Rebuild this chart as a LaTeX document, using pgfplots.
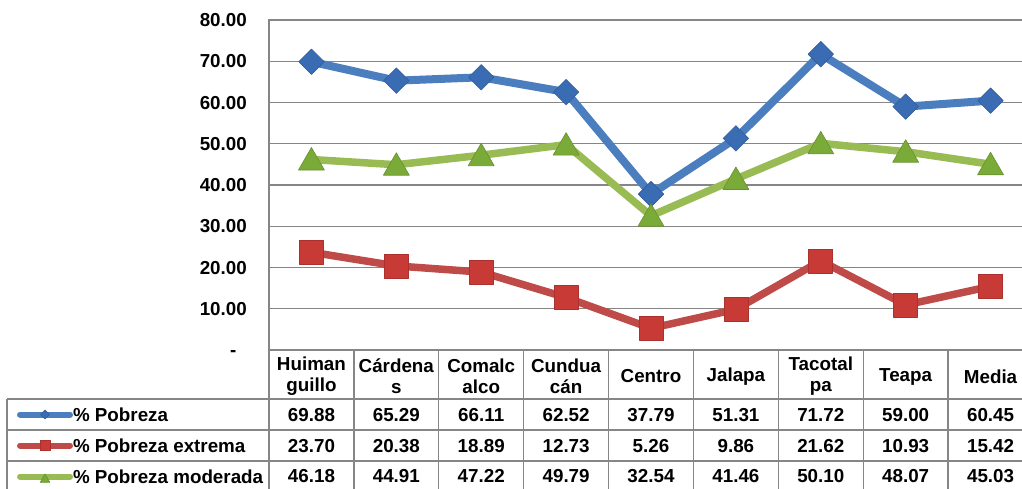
\documentclass[border=0pt]{standalone}
\usepackage{pgfplots}
\pgfplotsset{compat=1.18}
\usepackage{fontspec}
\setmainfont{Liberation Sans}
\definecolor{pblue}{RGB}{74,126,190}
\definecolor{pbluem}{RGB}{58,108,180}
\definecolor{pred}{RGB}{190,75,72}
\definecolor{predm}{RGB}{200,58,54}
\definecolor{pgreen}{RGB}{152,187,84}
\definecolor{pgreenm}{RGB}{122,170,56}
\definecolor{gridc}{RGB}{134,134,134}
\newcommand\legimg[1]{\draw[line width=6pt, line cap=round, mark repeat=2, mark phase=2, mark size=#1] plot coordinates {(0pt,0pt) (25pt,0pt) (50pt,0pt)};}
\begin{document}
\fontsize{18.8}{21}\selectfont\bfseries
\begin{tikzpicture}[x=1pt,y=1pt]
\path[use as bounding box] (0,0) rectangle (1022,489);
\clip (0,0) rectangle (1022,489);
\begin{axis}[
  at={(269pt,139pt)}, anchor=south west,
  scale only axis, width=764pt, height=330pt,
  xmin=0, xmax=9, ymin=0, ymax=80,
  clip=false,
  axis line style={gridc, line width=1.3pt},
  major tick length=0pt,
  ytick={0,10,...,80},
  yticklabels={-\hphantom{0},10.00,20.00,30.00,40.00,50.00,60.00,70.00,80.00},
  yticklabel style={anchor=east, inner sep=0pt, xshift=-22pt, text height=13.5pt, text depth=0pt},
  xtick={0.5,1.5,...,8.5},
  xticklabels={{Huiman\\guillo},{Cárdena\\s},{Comalc\\alco},{Cundua\\cán},Centro,Jalapa,{Tacotal\\pa},Teapa,Media},
  xticklabel style={anchor=center, align=center, inner sep=0pt, yshift=-26.5pt},
  ymajorgrids, grid style={gridc, line width=1.3pt},
  legend cell align=left,
  legend style={at={(-0.3298,-0.1485)}, anchor=north west, draw=none, fill=none,
    inner sep=0pt, outer sep=0pt, row sep=0pt, column sep=0pt,
    nodes={inner sep=0pt, text height=22pt, text depth=9pt}},
]
\addplot[pblue, line width=8pt, line join=round,
  mark=square*, mark size=9pt,
  mark options={rotate=45, fill=pbluem, draw=pbluem!85!black, line width=0.6pt},
  legend image code/.code={\legimg{3.2pt}}]
  coordinates {(0.5,69.88) (1.5,65.29) (2.5,66.11) (3.5,62.52) (4.5,37.79) (5.5,51.31) (6.5,71.72) (7.5,59.00) (8.5,60.45)};
\addlegendentry{\% Pobreza}
\addplot[pred, line width=7.5pt, line join=round,
  mark=square*, mark size=12pt,
  mark options={fill=predm, draw=predm!85!black, line width=0.6pt},
  legend image code/.code={\legimg{5pt}}]
  coordinates {(0.5,23.70) (1.5,20.38) (2.5,18.89) (3.5,12.73) (4.5,5.26) (5.5,9.86) (6.5,21.62) (7.5,10.93) (8.5,15.42)};
\addlegendentry{\% Pobreza extrema}
\addplot[pgreen, line width=7.5pt, line join=round,
  mark=triangle*, mark size=15pt,
  mark options={fill=pgreenm, draw=pgreenm!85!black, line width=0.6pt, yshift=-3pt},
  legend image code/.code={\legimg{5.5pt}}]
  coordinates {(0.5,46.18) (1.5,44.91) (2.5,47.22) (3.5,49.79) (4.5,32.54) (5.5,41.46) (6.5,50.10) (7.5,48.07) (8.5,45.03)};
\addlegendentry{\% Pobreza moderada}
\end{axis}
% data table grid
\begin{scope}[gridc, line width=1.3pt]
\foreach \yy in {90,59,28} \draw (7,\yy) -- (1022,\yy);
\draw (7,90) -- (7,0);
\draw (269,139) -- (269,0);
\foreach \k in {1,...,8} \draw ({269+\k*84.889},139) -- ({269+\k*84.889},0);
\end{scope}
\foreach \v [count=\i from 0] in {69.88,65.29,66.11,62.52,37.79,51.31,71.72,59.00,60.45}
  \node[anchor=base, inner sep=0pt] at ({269+(\i+0.5)*84.889},67.8) {\v};
\foreach \v [count=\i from 0] in {23.70,20.38,18.89,12.73,5.26,9.86,21.62,10.93,15.42}
  \node[anchor=base, inner sep=0pt] at ({269+(\i+0.5)*84.889},36.8) {\v};
\foreach \v [count=\i from 0] in {46.18,44.91,47.22,49.79,32.54,41.46,50.10,48.07,45.03}
  \node[anchor=base, inner sep=0pt] at ({269+(\i+0.5)*84.889},6.3) {\v};
\end{tikzpicture}
\end{document}
